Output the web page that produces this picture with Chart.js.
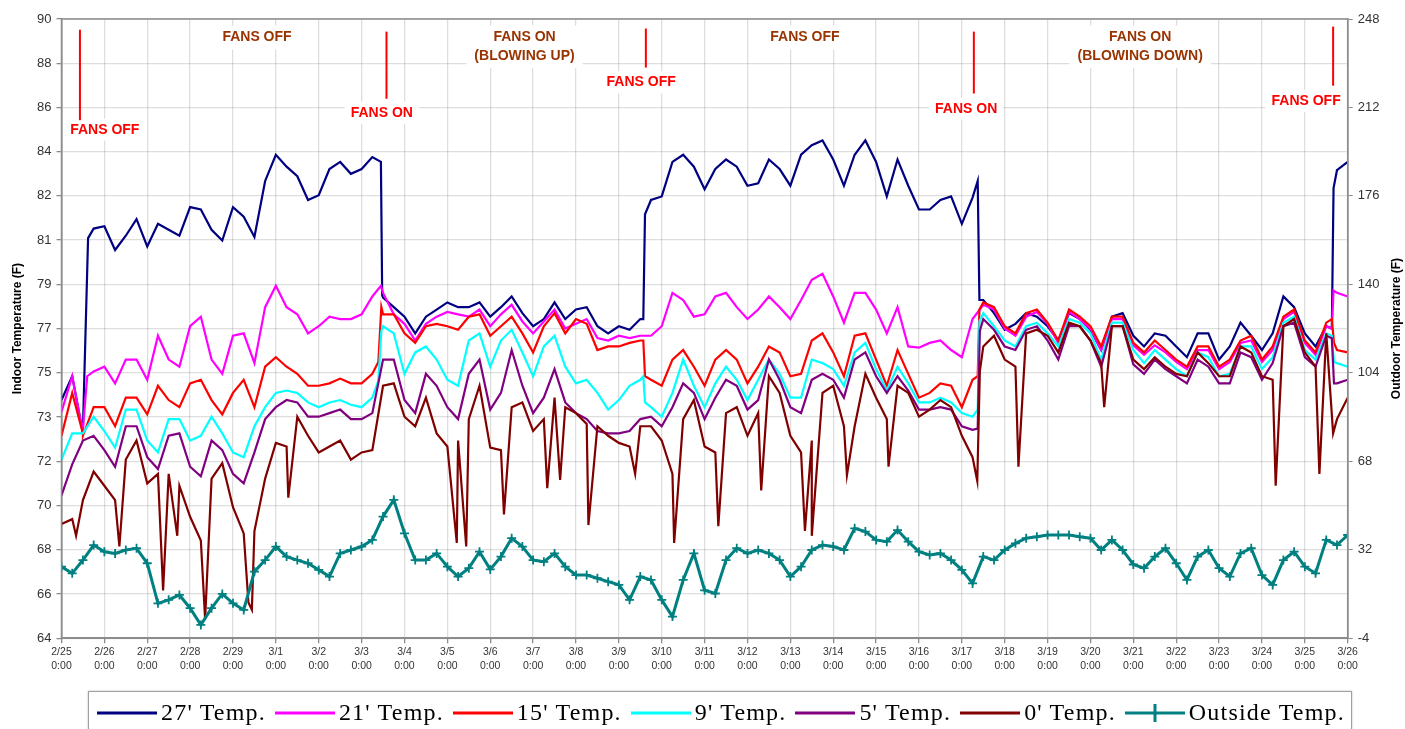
<!DOCTYPE html>
<html>
<head>
<meta charset="utf-8">
<title>Indoor / outdoor temperature</title>
<script src="https://cdn.jsdelivr.net/npm/chart.js@4.4.1/dist/chart.umd.min.js"></script>
<style>
    html, body { margin: 0; padding: 0; background: #fff; }
    #wrap { position: relative; width: 1405px; height: 729px; overflow: hidden; }
    #chart { position: absolute; left: 0; top: 0; }
    #legend {
        position: absolute; left: 88px; top: 691px; width: 1264px; height: 52px;
        box-sizing: border-box; border: 1px solid #a0a0a0; box-shadow: 0 0 2px rgba(0,0,0,0.25);
        background: #fff; display: flex; justify-content: space-between; align-items: flex-start;
        padding: 6px 6px 0 8px;
        font-family: 'Liberation Serif', 'Times New Roman', serif; font-size: 24px; letter-spacing: 1.2px;
    }
    #legend .item { display: flex; align-items: center; height: 28px; white-space: nowrap; }
    #legend svg { margin-right: 4px; }
</style>
</head>
<body>
<div id="wrap">
    <canvas id="chart" width="1405" height="729"></canvas>
    <div id="legend"></div>
</div>
<script>
// Axes
const dateLabels = ['2/25', '2/26', '2/27', '2/28', '2/29', '3/1', '3/2', '3/3', '3/4', '3/5', '3/6', '3/7',
    '3/8', '3/9', '3/10', '3/11', '3/12', '3/13', '3/14', '3/15', '3/16', '3/17', '3/18', '3/19', '3/20',
    '3/21', '3/22', '3/23', '3/24', '3/25', '3/26'];
const hourLabel = '0:00';
const leftTickLabels = ['64', '66', '68', '70', '72', '73', '75', '77', '79', '81', '82', '84', '86', '88', '90'];
const rightTickValues = [-4, 32, 68, 104, 140, 176, 212, 248];

// Readings every 6 hours from 2/25 0:00 to 3/26 0:00 (deg F)
const temp27 = [74.0, 75.0, 72.8, 81.2, 81.3, 80.3, 80.9, 81.6, 80.45, 81.4, 81.15, 80.9, 82.1, 82.0, 81.15, 80.7, 82.1, 81.7, 80.85, 83.2, 84.3,
    83.8, 83.4, 82.4, 82.6, 83.7, 84.0, 83.5, 83.7, 84.2, 78.3, 77.9, 77.5, 76.8, 77.5, 77.8, 78.1, 77.9, 77.9, 78.1, 77.5,
    77.9, 78.35, 77.65, 77.1, 77.4, 78.1, 77.4, 77.8, 77.9, 77.1, 76.8, 77.1, 76.95, 77.4, 82.4, 82.55, 84.0, 84.3, 83.8, 82.85,
    83.7, 84.1, 83.8, 83.0, 83.1, 84.1, 83.7, 83.0, 84.3, 84.7, 84.9, 84.1, 83.0, 84.3, 84.9, 84.0, 82.55, 84.1, 83.0, 82.0,
    82.0, 82.4, 82.55, 81.4, 82.5, 78.2, 77.65, 76.95, 77.2, 77.65, 77.5, 77.1, 76.5, 77.65, 77.4, 76.95, 76.1, 77.5, 77.65, 76.7,
    76.25, 76.8, 76.7, 76.25, 75.8, 76.8, 76.8, 75.7, 76.25, 77.25, 76.7, 76.1, 76.8, 78.35, 77.9, 76.8, 76.25, 77.1, 83.65, 84.0];
const temp21 = [73.5, 75.0, 72.8, 75.2, 75.4, 74.7, 75.7, 75.7, 74.85, 76.7, 75.7, 75.4, 77.1, 77.5, 75.7, 75.1, 76.7, 76.8, 75.55, 77.9, 78.8,
    77.9, 77.6, 76.8, 77.1, 77.5, 77.4, 77.4, 77.6, 78.35, 78.5, 77.6, 77.2, 76.5, 77.2, 77.5, 77.7, 77.6, 77.5, 77.8, 77.1,
    77.6, 78.0, 77.3, 76.8, 77.3, 77.8, 77.0, 77.2, 77.4, 76.6, 76.5, 76.7, 76.6, 76.7, 76.7, 77.1, 78.5, 78.2, 77.5, 77.6,
    78.35, 78.5, 77.9, 77.4, 77.8, 78.35, 77.9, 77.4, 78.2, 79.05, 79.3, 78.35, 77.25, 78.5, 78.5, 77.8, 76.8, 77.9, 76.25, 76.2,
    76.4, 76.5, 76.1, 75.8, 77.4, 78.0, 77.8, 77.0, 76.7, 77.5, 77.7, 77.2, 76.4, 77.7, 77.4, 77.0, 76.1, 77.4, 77.4, 76.3,
    75.9, 76.3, 76.0, 75.6, 75.3, 76.1, 76.1, 75.3, 75.6, 76.4, 76.5, 75.6, 76.1, 77.4, 77.7, 76.4, 75.9, 77.1, 78.5, 78.35];
const temp15 = [72.5, 74.3, 72.6, 73.7, 73.7, 72.9, 74.1, 74.1, 73.4, 74.6, 74.0, 73.7, 74.7, 74.85, 74.0, 73.4, 74.3, 74.85, 73.7, 75.4, 75.8,
    75.4, 75.1, 74.6, 74.6, 74.7, 74.9, 74.7, 74.7, 75.1, 77.6, 77.6, 76.8, 76.4, 77.1, 77.2, 77.1, 76.95, 77.5, 77.6, 76.7,
    77.1, 77.5, 76.8, 76.0, 77.1, 77.65, 76.8, 77.4, 77.2, 76.1, 76.25, 76.25, 76.4, 76.5, 74.85, 74.6, 75.7, 76.1, 75.4, 74.6,
    75.7, 76.1, 75.7, 74.7, 75.4, 76.25, 76.0, 75.0, 75.1, 76.5, 76.8, 76.0, 75.0, 76.7, 76.8, 75.7, 74.6, 76.1, 75.1, 74.1,
    74.3, 74.7, 74.6, 73.7, 74.85, 78.1, 77.9, 77.1, 76.8, 77.65, 77.8, 77.25, 76.5, 77.8, 77.5, 77.1, 76.25, 77.5, 77.5, 76.4,
    76.0, 76.5, 76.1, 75.7, 75.4, 76.25, 76.25, 75.4, 75.7, 76.5, 76.7, 75.7, 76.25, 77.5, 77.8, 76.5, 76.0, 77.25, 76.1, 76.0];
const temp9 = [71.5, 72.6, 72.6, 73.3, 72.7, 72.0, 73.6, 73.6, 72.3, 71.8, 73.2, 73.2, 72.3, 72.5, 73.3, 72.6, 71.8, 71.6, 72.9, 73.7, 74.3,
    74.4, 74.3, 73.9, 73.7, 73.9, 74.0, 73.8, 73.7, 74.1, 77.1, 76.8, 75.1, 76.0, 76.25, 75.7, 74.85, 74.6, 76.5, 76.8, 75.4,
    76.5, 76.95, 76.0, 75.0, 76.25, 76.7, 75.4, 74.7, 74.85, 74.3, 73.6, 74.0, 74.6, 74.85, 73.7, 73.3, 74.3, 75.7, 74.6, 73.7,
    74.7, 75.4, 74.85, 74.0, 74.85, 75.7, 75.1, 74.1, 74.1, 75.7, 75.55, 75.3, 74.6, 76.0, 76.4, 75.3, 74.4, 75.4, 74.7, 73.9,
    73.9, 74.1, 73.9, 73.45, 73.3, 77.65, 77.1, 76.5, 76.25, 77.1, 77.25, 76.8, 76.25, 77.4, 77.25, 76.8, 75.7, 77.25, 77.25, 76.1,
    75.55, 76.1, 75.7, 75.3, 75.0, 76.0, 75.8, 75.0, 75.1, 76.25, 76.25, 75.3, 75.8, 77.25, 77.5, 76.1, 75.7, 76.8, 75.55, 75.4];
const temp5 = [70.0, 71.3, 72.3, 72.5, 71.9, 71.2, 72.9, 72.9, 71.6, 71.1, 72.5, 72.6, 71.2, 70.8, 72.3, 71.9, 70.9, 70.5, 71.8, 73.2, 73.7,
    74.0, 73.9, 73.3, 73.3, 73.45, 73.6, 73.2, 73.2, 73.45, 75.7, 75.7, 74.0, 73.45, 75.1, 74.6, 73.7, 73.2, 75.1, 75.7, 73.6,
    74.3, 76.1, 74.6, 73.45, 74.1, 75.3, 73.9, 73.45, 73.2, 72.7, 72.6, 72.6, 72.7, 73.2, 73.3, 72.9, 73.7, 74.7, 74.3, 73.2,
    74.1, 74.85, 74.6, 73.6, 74.0, 75.7, 74.85, 73.7, 73.45, 74.85, 75.1, 74.85, 74.1, 75.7, 76.0, 75.0, 74.3, 75.0, 74.4, 73.6,
    73.6, 73.7, 73.6, 72.9, 72.75, 77.4, 76.95, 76.25, 76.1, 76.95, 77.1, 76.5, 75.7, 77.1, 77.1, 76.5, 75.4, 77.1, 77.1, 75.5,
    75.1, 75.7, 75.3, 75.0, 74.7, 75.7, 75.4, 74.7, 74.7, 76.0, 75.8, 74.85, 75.55, 77.1, 77.25, 75.8, 75.4, 76.7, 74.7, 74.85];
const temp0 = [68.8, 69.0, 69.8, 71.0, 70.4, 69.8, 71.5, 72.3, 70.5, 70.9, 70.9, 70.4, 69.1, 68.1, 70.7, 71.35, 69.5, 68.4, 68.5, 70.7, 72.2,
    72.05, 73.3, 72.5, 71.8, 72.05, 72.3, 71.5, 71.8, 71.9, 74.6, 74.7, 73.3, 72.9, 74.1, 72.6, 72.05, 72.3, 73.2, 74.6, 72.0,
    71.9, 73.7, 73.9, 72.7, 73.2, 74.1, 73.7, 73.45, 73.0, 72.9, 72.5, 72.2, 72.05, 72.9, 72.9, 72.3, 70.9, 73.2, 74.0, 72.05,
    71.8, 73.45, 73.7, 72.5, 73.45, 75.0, 74.3, 72.5, 71.8, 72.3, 74.3, 74.6, 72.9, 72.9, 75.1, 74.1, 73.2, 74.6, 74.3, 73.3,
    73.6, 74.0, 73.7, 72.5, 71.6, 76.25, 76.7, 75.7, 75.4, 76.8, 76.95, 76.7, 76.0, 77.25, 77.1, 76.5, 75.55, 77.1, 77.1, 75.7,
    75.3, 75.8, 75.4, 75.1, 75.0, 76.0, 75.55, 75.0, 75.0, 76.25, 76.0, 75.0, 74.85, 77.1, 77.4, 76.0, 75.4, 76.8, 73.2, 74.1];
const tempOutside = [25.1, 22.4, 27.8, 33.9, 31.2, 30.5, 31.9, 32.6, 26.5, 10.2, 11.6, 13.6, 8.2, 1.4, 8.2, 14.0, 10.2, 7.5, 23.1, 27.8, 33.3,
    29.2, 27.8, 26.5, 23.8, 21.1, 30.5, 31.9, 33.3, 36.0, 45.5, 52.3, 38.7, 27.8, 27.8, 30.5, 25.1, 21.1, 24.5, 31.2, 24.0,
    29.2, 36.7, 33.3, 27.8, 27.1, 30.5, 25.1, 21.7, 21.7, 20.4, 19.0, 17.7, 11.6, 21.1, 19.7, 11.6, 4.8, 19.7, 30.5, 15.5,
    14.2, 27.8, 32.6, 30.5, 31.9, 30.5, 27.8, 21.1, 25.1, 31.9, 33.9, 33.3, 31.9, 40.7, 39.4, 36.0, 35.3, 40.0, 35.3, 31.2,
    29.9, 30.5, 27.8, 23.8, 18.3, 29.2, 27.8, 31.9, 34.6, 36.7, 37.3, 38.0, 38.0, 38.0, 37.3, 36.7, 31.9, 36.0, 31.9, 26.0,
    24.5, 29.2, 32.6, 26.5, 19.7, 29.2, 31.9, 24.5, 21.1, 30.5, 32.6, 21.7, 17.7, 27.8, 31.2, 25.1, 22.4, 36.0, 33.9, 38.0];

// Extra readings [day, deg F] at the fan switches and the short dips of the 0' sensor
const extra27 = [[0.49, 72.7], [0.62, 80.8], [7.45, 84.0], [7.48, 78.4], [13.57, 77.4], [13.61, 81.8],
    [21.37, 83.2], [21.41, 78.2], [29.63, 77.0], [29.67, 82.9]];
const extra21 = [[0.49, 72.7], [0.6, 75.0], [7.45, 78.8], [29.63, 77.0], [29.67, 78.6]];
const extra15 = [[0.5, 72.5], [7.39, 75.6], [7.46, 77.9], [13.57, 76.5], [13.61, 75.0], [21.37, 75.0], [21.41, 77.8],
    [29.63, 77.4], [29.68, 76.4]];
const extra9 = [[7.39, 74.8], [7.46, 76.9], [13.57, 75.0], [13.61, 73.9], [21.37, 73.6], [21.41, 77.3], [29.63, 76.7], [29.68, 75.6]];
const extra5 = [[21.37, 72.8], [21.42, 76.9], [29.63, 76.6], [29.68, 74.7]];
const extra0 = [[0.34, 68.3], [1.35, 67.85], [2.37, 66.0], [2.7, 68.3], [3.35, 64.8], [4.36, 65.5], [4.44, 65.2],
    [5.29, 69.9], [9.22, 68.0], [9.44, 67.85], [10.32, 69.2], [11.33, 70.3], [11.63, 70.65], [12.29, 68.75],
    [13.38, 70.9], [14.29, 68.0], [15.32, 68.7], [16.32, 70.2], [17.34, 68.5], [17.5, 68.3], [18.32, 70.85],
    [19.29, 71.2], [21.36, 70.6], [21.42, 75.2], [22.32, 71.2], [24.32, 73.7], [28.32, 70.4], [29.34, 70.9], [29.66, 72.6]];

const seriesNames = ["27' Temp.", "21' Temp.", "15' Temp.", "9' Temp.", "5' Temp.", "0' Temp.", 'Outside Temp.'];
const seriesColors = ['#000080', '#ff00ff', '#ff0000', '#00ffff', '#800080', '#800000', '#008080'];

// Notes on the plot (day, deg F on the indoor axis)
const fanEvents = [
    { day: 0.43, from: 89.55, to: 85.75, text: 'FANS OFF', textDay: 1.01, textY: 85.35 },
    { day: 7.58, from: 89.47, to: 86.65, text: 'FANS ON', textDay: 7.47, textY: 86.06 },
    { day: 13.63, from: 89.6, to: 87.96, text: 'FANS OFF', textDay: 13.52, textY: 87.34 },
    { day: 21.28, from: 89.47, to: 86.87, text: 'FANS ON', textDay: 21.1, textY: 86.23 },
    { day: 29.66, from: 89.68, to: 87.2, text: 'FANS OFF', textDay: 29.03, textY: 86.56 }
];
const phaseLabels = [
    { day: 4.56, y: 89.22, lines: ['FANS OFF'] },
    { day: 10.8, y: 89.22, lines: ['FANS ON', '(BLOWING UP)'] },
    { day: 17.34, y: 89.22, lines: ['FANS OFF'] },
    { day: 25.16, y: 89.22, lines: ['FANS ON', '(BLOWING DOWN)'] }
];

const FONT = "'Liberation Sans', Arial, sans-serif";
const LINE_GAP = 18.5;

function buildSeries(values, extra) {
    const pts = values.map((v, i) => ({ x: i / 4, y: v }));
    (extra || []).forEach(p => pts.push({ x: p[0], y: p[1] }));
    return pts.sort((a, b) => a.x - b.x);
}

const notesPlugin = {
    id: 'notes',
    beforeDatasetsDraw(chart) {
        // white text boxes hide the grid behind the labels
        const { ctx } = chart;
        const xs = chart.scales.x, ys = chart.scales.y;
        ctx.save();
        ctx.font = 'bold 14px ' + FONT;
        ctx.fillStyle = '#ffffff';
        fanEvents.forEach(e => {
            const w = ctx.measureText(e.text).width;
            const cx = xs.getPixelForValue(e.textDay);
            const cy = ys.getPixelForValue(e.textY);
            ctx.fillRect(cx - w / 2 - 6, cy - 11, w + 12, 22);
        });
        phaseLabels.forEach(p => {
            const w = Math.max(...p.lines.map(l => ctx.measureText(l).width));
            const cx = xs.getPixelForValue(p.day);
            const cy = ys.getPixelForValue(p.y);
            ctx.fillRect(cx - w / 2 - 8, cy - 12, w + 16, LINE_GAP * (p.lines.length - 1) + 24);
        });
        ctx.restore();
    },
    afterDatasetsDraw(chart) {
        const { ctx } = chart;
        const xs = chart.scales.x, ys = chart.scales.y;
        ctx.save();
        ctx.font = 'bold 14px ' + FONT;
        ctx.textAlign = 'center';
        ctx.textBaseline = 'middle';
        fanEvents.forEach(e => {
            const x = xs.getPixelForValue(e.day);
            ctx.strokeStyle = '#ff0000';
            ctx.lineWidth = 2;
            ctx.beginPath();
            ctx.moveTo(x, ys.getPixelForValue(e.from));
            ctx.lineTo(x, ys.getPixelForValue(e.to));
            ctx.stroke();
            ctx.fillStyle = '#ff0000';
            ctx.fillText(e.text, xs.getPixelForValue(e.textDay), ys.getPixelForValue(e.textY));
        });
        ctx.fillStyle = '#993300';
        phaseLabels.forEach(p => {
            const cx = xs.getPixelForValue(p.day);
            const cy = ys.getPixelForValue(p.y);
            p.lines.forEach((l, i) => ctx.fillText(l, cx, cy + i * LINE_GAP));
        });
        ctx.restore();
    },
    afterDraw(chart) {
        const { ctx, chartArea: a } = chart;
        ctx.save();
        ctx.strokeStyle = '#8c8c8c';
        ctx.lineWidth = 1.5;
        ctx.strokeRect(a.left, a.top, a.right - a.left, a.bottom - a.top);
        ctx.restore();

        const mid = (a.top + a.bottom) / 2;
        [['Indoor Temperature (F)', 18], ['Outdoor Temperature (F)', 1397]].forEach(t => {
            ctx.save();
            ctx.fillStyle = '#000';
            ctx.font = 'bold 12px ' + FONT;
            ctx.textAlign = 'center';
            ctx.textBaseline = 'middle';
            ctx.translate(t[1], mid);
            ctx.rotate(-Math.PI / 2);
            ctx.fillText(t[0], 0, 0);
            ctx.restore();
        });
    }
};

const indoor = [
    { values: temp27, extra: extra27 },
    { values: temp21, extra: extra21 },
    { values: temp15, extra: extra15 },
    { values: temp9, extra: extra9 },
    { values: temp5, extra: extra5 },
    { values: temp0, extra: extra0 }
];

const datasets = indoor.map((s, i) => ({
    label: seriesNames[i],
    data: buildSeries(s.values, s.extra),
    borderColor: seriesColors[i],
    backgroundColor: seriesColors[i],
    borderWidth: 2.2,
    pointRadius: 0,
    yAxisID: 'y',
    order: 7 - i
}));
datasets.push({
    label: seriesNames[6],
    data: buildSeries(tempOutside),
    borderColor: seriesColors[6],
    backgroundColor: seriesColors[6],
    borderWidth: 3,
    pointStyle: 'cross',
    pointRadius: 4.5,
    pointBorderWidth: 1.8,
    pointBorderColor: seriesColors[6],
    yAxisID: 'y2',
    order: 0
});

const gridColor = 'rgba(0, 0, 0, 0.13)';
const tickFont = { family: FONT, size: 13 };

const ctx = document.getElementById('chart').getContext('2d');
const chart = new Chart(ctx, {
    type: 'line',
    data: { datasets: datasets },
    plugins: [notesPlugin],
    options: {
        responsive: false,
        animation: false,
        layout: { padding: { top: 19, left: 0, right: 0, bottom: 0 } },
        elements: { line: { tension: 0 } },
        plugins: {
            legend: { display: false },
            tooltip: { enabled: false }
        },
        scales: {
            x: {
                type: 'linear',
                min: 0,
                max: 30,
                afterBuildTicks: scale => { scale.ticks = dateLabels.map((d, i) => ({ value: i })); },
                afterFit: scale => { scale.height = 90.8; },
                grid: { color: gridColor, lineWidth: 1.3, tickLength: 5, tickColor: '#8c8c8c' },
                border: { color: '#8c8c8c', width: 1.5 },
                ticks: {
                    autoSkip: false,
                    maxRotation: 0,
                    padding: 2,
                    color: '#333',
                    font: { family: FONT, size: 10.5, lineHeight: 1.35 },
                    callback: (value, index) => [dateLabels[index], hourLabel]
                }
            },
            y: {
                position: 'left',
                min: 64,
                max: 90,
                afterBuildTicks: scale => { scale.ticks = leftTickLabels.map((l, i) => ({ value: 64 + i * 26 / 14 })); },
                afterFit: scale => { scale.width = 61.5; },
                grid: { color: gridColor, lineWidth: 1.3, tickLength: 5, tickColor: '#8c8c8c' },
                border: { color: '#8c8c8c', width: 1.5 },
                ticks: {
                    padding: 5,
                    color: '#333',
                    font: tickFont,
                    callback: (value, index) => leftTickLabels[index]
                }
            },
            y2: {
                position: 'right',
                min: -4,
                max: 248,
                afterBuildTicks: scale => { scale.ticks = rightTickValues.map(v => ({ value: v })); },
                afterFit: scale => { scale.width = 57.3; },
                grid: { drawOnChartArea: false, tickLength: 5, tickColor: '#8c8c8c' },
                border: { color: '#8c8c8c', width: 1.5 },
                ticks: {
                    padding: 5,
                    color: '#333',
                    font: tickFont,
                    callback: value => String(value)
                }
            }
        }
    }
});

// Legend below the plot
const legend = document.getElementById('legend');
seriesNames.forEach((name, i) => {
    const item = document.createElement('div');
    item.className = 'item';
    const c = seriesColors[i];
    let svg = '<svg width="60" height="20"><line x1="0" y1="11" x2="60" y2="11" stroke="' + c + '" stroke-width="3"/>';
    if (i === 6) svg += '<line x1="30" y1="2" x2="30" y2="20" stroke="' + c + '" stroke-width="3"/>';
    svg += '</svg>';
    item.innerHTML = svg + '<span></span>';
    item.querySelector('span').textContent = name;
    legend.appendChild(item);
});
</script>
</body>
</html>
